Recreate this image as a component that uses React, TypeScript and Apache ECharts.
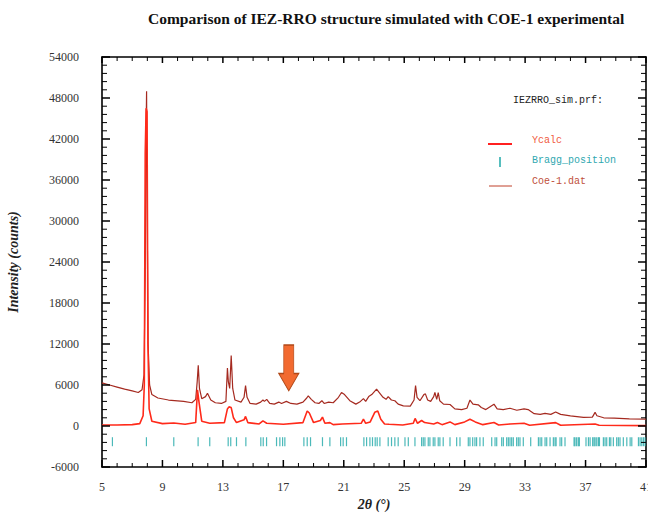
import React, { useEffect, useRef } from "react";
import * as echarts from "echarts";

const titleText = "Comparison of IEZ-RRO structure simulated with COE-1 experimental";

// Experimental pattern (Coe-1.dat): 2θ and intensity
const expTheta = [5.0, 5.5, 6.0, 6.5, 7.0, 7.4, 7.65, 7.78, 7.86, 7.9, 7.95, 8.0, 8.05, 8.15, 8.3, 8.7, 9.4, 10.4, 10.95, 11.2, 11.3, 11.37, 11.45, 11.6, 11.85, 11.98, 12.2, 12.5, 12.9, 13.2, 13.3, 13.36, 13.45, 13.55, 13.65, 13.8, 14.2, 14.4, 14.5, 14.6, 14.8, 15.2, 15.5, 15.65, 15.75, 15.9, 16.1, 16.4, 16.7, 16.88, 17.2, 17.5, 17.9, 18.3, 18.55, 18.65, 18.85, 19.1, 19.35, 19.55, 19.7, 20.0, 20.3, 20.65, 20.85, 21.05, 21.4, 21.8, 22.05, 22.3, 22.45, 22.65, 22.85, 23.17, 23.35, 23.6, 23.8, 23.94, 24.15, 24.38, 24.6, 24.94, 25.4, 25.65, 25.75, 25.85, 26.04, 26.3, 26.4, 26.55, 26.75, 26.95, 27.03, 27.15, 27.25, 27.35, 27.6, 28.03, 28.35, 28.8, 29.15, 29.35, 29.55, 29.9, 30.1, 30.4, 30.94, 31.15, 31.55, 32.0, 32.45, 32.93, 33.2, 33.6, 34.0, 34.32, 34.7, 35.02, 35.35, 36.0, 36.86, 37.45, 37.63, 37.75, 38.2, 38.9, 39.9, 41.0];
const expIntensity = [6300, 6000, 5700, 5400, 5150, 4900, 5300, 7500, 22000, 40000, 49000, 28000, 12000, 6000, 4600, 4100, 3800, 3600, 3400, 3900, 6500, 8900, 5500, 4000, 4300, 4800, 3800, 3400, 3300, 3600, 8500, 6500, 5500, 10300, 5500, 3800, 3500, 4200, 5900, 4200, 3300, 3200, 3500, 3800, 3600, 3900, 3300, 3200, 3500, 3300, 3600, 3300, 3200, 3500, 4100, 4400, 3900, 3400, 3300, 3700, 3300, 3500, 3400, 4200, 4900, 4600, 3700, 3200, 3500, 4000, 3600, 4300, 4600, 5400, 4900, 4200, 3900, 4300, 3800, 3700, 3200, 2950, 2900, 3800, 5900, 4200, 3700, 4600, 4700, 3800, 3600, 4300, 4900, 3900, 4900, 3700, 3200, 3150, 2500, 2400, 2600, 3800, 3200, 3100, 2700, 2400, 3200, 2500, 2400, 2600, 2300, 2500, 2400, 1800, 1700, 1850, 1700, 2050, 1700, 1480, 1250, 1300, 2000, 1500, 1200, 1150, 1050, 1000];

// Calculated pattern (Ycalc)
const calcTheta = [5.0, 6.0, 7.0, 7.5, 7.72, 7.8, 7.86, 7.92, 7.98, 8.04, 8.12, 8.3, 9.0, 9.75, 10.5, 11.2, 11.32, 11.42, 11.6, 12.13, 13.1, 13.3, 13.4, 13.55, 13.7, 13.9, 14.4, 14.5, 14.65, 15.4, 15.65, 15.9, 17.0, 18.3, 18.58, 18.72, 19.0, 19.45, 19.59, 19.75, 20.08, 20.3, 20.9, 22.15, 22.3, 22.45, 22.75, 23.05, 23.25, 23.45, 23.7, 24.0, 24.9, 25.6, 25.72, 25.88, 26.15, 26.35, 26.95, 27.2, 27.5, 28.03, 28.35, 29.0, 29.35, 29.7, 30.2, 30.94, 31.25, 32.0, 32.93, 33.3, 35.02, 35.35, 37.63, 37.9, 41.0];
const calcIntensity = [150, 150, 200, 350, 1500, 6000, 40000, 46500, 46000, 12000, 2500, 700, 350, 450, 250, 500, 5300, 3500, 700, 400, 500, 2500, 2800, 2700, 1200, 500, 900, 1400, 500, 300, 750, 400, 250, 500, 2200, 1900, 500, 800, 1300, 400, 500, 200, 300, 400, 1000, 400, 600, 2000, 2200, 1000, 300, 250, 150, 400, 1100, 400, 800, 500, 300, 500, 200, 600, 200, 600, 1000, 600, 200, 500, 150, 300, 400, 100, 500, 100, 300, 100, 50];

// Bragg reflection positions (2θ)
const braggPositions = [5.69, 7.94, 9.75, 11.36, 12.13, 13.35, 13.52, 13.9, 14.52, 15.51, 15.67, 15.89, 16.55, 16.77, 16.95, 17.1, 18.36, 18.58, 18.8, 19.59, 20.08, 20.79, 20.96, 21.18, 22.33, 22.51, 22.73, 22.9, 23.08, 23.21, 23.39, 23.94, 24.16, 24.38, 24.6, 25.05, 25.27, 25.71, 26.15, 26.26, 26.37, 26.59, 26.7, 26.92, 27.03, 27.25, 27.36, 27.58, 28.03, 28.47, 28.69, 29.24, 29.35, 29.53, 29.68, 29.79, 30.01, 30.23, 30.79, 31.01, 31.12, 31.45, 31.56, 31.78, 31.89, 32.0, 32.11, 32.22, 32.44, 32.55, 32.66, 32.88, 33.37, 33.88, 33.99, 34.1, 34.32, 34.43, 34.65, 34.87, 34.98, 35.05, 35.31, 35.42, 35.64, 36.24, 36.3, 36.41, 36.52, 36.59, 37.03, 37.19, 37.3, 37.47, 37.56, 37.63, 37.74, 37.85, 37.92, 38.18, 38.29, 38.4, 38.58, 38.67, 38.84, 39.06, 39.17, 39.28, 39.5, 39.73, 39.95, 40.06, 40.5, 40.61, 40.72, 40.83, 40.94];
const braggLevel = -2300;

// Axis ranges and tick steps
const xMin = 5, xMax = 41, xStep = 4, xMinorStep = 1;
const yMin = -6000, yMax = 54000, yStep = 6000, yMinorStep = 1200;

// Arrow annotation position
const arrowAt = [17.36, 8500];

const serif = "'Liberation Serif', 'Times New Roman', serif";
const mono = "'Liberation Mono', 'DejaVu Sans Mono', monospace";

export default function App() {
  const ref = useRef<HTMLDivElement>(null);
  useEffect(() => {
    if (!ref.current) return;
    const chart = echarts.init(ref.current, undefined, { renderer: "svg" });
    const expData = expTheta.map((t, i) => [t, expIntensity[i]]);
    const calcData = calcTheta.map((t, i) => [t, calcIntensity[i]]);
    const braggData = braggPositions.map((t) => [t, braggLevel]);

    // Tick values of the frame (axis decoration)
    const xMajor: number[] = [], xMinor: number[] = [], yMajor: number[] = [], yMinor: number[] = [];
    for (let k = 0; xMin + k * xMinorStep <= xMax + 1e-9; k++) {
      const v = xMin + k * xMinorStep;
      ((k * xMinorStep) % xStep === 0 ? xMajor : xMinor).push(v);
    }
    for (let k = 0; yMin + k * yMinorStep <= yMax + 1e-9; k++) {
      const v = yMin + k * yMinorStep;
      ((k * yMinorStep) % yStep === 0 ? yMajor : yMinor).push(v);
    }

    // Inward tick marks drawn as small rect symbols through the axis scales
    const tickSeries = (data: number[][], size: number[], offset: number[]) => ({
      type: "scatter",
      data,
      symbol: "rect",
      symbolSize: size,
      symbolOffset: offset,
      itemStyle: { color: "#000", opacity: 1 },
      clip: false,
      silent: true,
      z: 10,
    });

    const frameLine = { show: true, onZero: false, lineStyle: { color: "#000", width: 1.6 } };
    const xBase = { type: "value", min: xMin, max: xMax, interval: xStep, splitLine: { show: false }, axisTick: { show: false } };
    const yBase = { type: "value", min: yMin, max: yMax, interval: yStep, splitLine: { show: false }, axisTick: { show: false } };

    chart.setOption({
      animation: false,
      backgroundColor: "#fff",
      title: {
        text: titleText,
        left: 143,
        top: 5,
        textStyle: { fontFamily: serif, fontWeight: "bold", fontSize: 15.5, color: "#111" },
      },
      grid: { left: 102, right: 2, top: 57, bottom: 47, outerBoundsMode: "none" },
      xAxis: [
        {
          ...xBase,
          position: "bottom",
          axisLine: frameLine,
          axisLabel: { show: true, showMaxLabel: true, showMinLabel: true, margin: 14, fontFamily: serif, fontSize: 12, color: "#333" },
          name: "2θ (°)",
          nameLocation: "middle",
          nameGap: 29,
          nameTextStyle: { fontFamily: serif, fontStyle: "italic", fontWeight: "bold", fontSize: 14, color: "#222" },
        },
        { ...xBase, position: "top", axisLine: frameLine, axisLabel: { show: false } },
      ],
      yAxis: [
        {
          ...yBase,
          position: "left",
          axisLine: frameLine,
          axisLabel: {
            show: true, margin: 23, fontFamily: serif, fontSize: 12, color: "#333",
            formatter: (v: number) => String(v),
          },
          name: "Intensity (counts)",
          nameLocation: "middle",
          nameGap: 82,
          nameTextStyle: { fontFamily: serif, fontStyle: "italic", fontWeight: "bold", fontSize: 14, color: "#222" },
        },
        { ...yBase, position: "right", axisLine: frameLine, axisLabel: { show: false } },
      ],
      series: [
        {
          name: "Coe-1.dat",
          type: "line",
          data: expData,
          symbol: "none",
          lineStyle: { color: "#a52a20", width: 1.2 },
          z: 2,
          markPoint: {
            silent: true,
            symbol: "path://M5,0L15,0L15,28L20,28L10,45L0,28L5,28Z",
            symbolSize: [20, 46],
            itemStyle: { color: "#f26a30", borderColor: "#b04818", borderWidth: 1 },
            label: { show: false },
            data: [{ coord: arrowAt }],
          },
        },
        {
          name: "Ycalc",
          type: "line",
          data: calcData,
          symbol: "none",
          lineStyle: { color: "#ff2a1a", width: 1.6 },
          z: 3,
        },
        {
          name: "Bragg_position",
          type: "scatter",
          data: braggData,
          symbol: "rect",
          symbolSize: [1.2, 9],
          itemStyle: { color: "#1ea8a8" },
          silent: true,
          z: 4,
        },
        tickSeries(xMajor.map((v) => [v, yMin]), [1.5, 7], [0, -3.5]),
        tickSeries(xMinor.map((v) => [v, yMin]), [1, 4], [0, -2]),
        tickSeries(xMajor.map((v) => [v, yMax]), [1.5, 6], [0, 3]),
        tickSeries(xMinor.map((v) => [v, yMax]), [1, 4], [0, 2]),
        tickSeries(yMajor.map((v) => [xMin, v]), [8, 1.5], [4, 0]),
        tickSeries(yMinor.map((v) => [xMin, v]), [5, 1], [2.5, 0]),
        tickSeries(yMajor.map((v) => [xMax, v]), [8, 1.5], [-4, 0]),
        tickSeries(yMinor.map((v) => [xMax, v]), [5, 1], [-2.5, 0]),
      ],
      graphic: [
        { type: "text", left: 513, top: 95, style: { text: "IEZRRO_sim.prf:", font: `10px ${mono}`, fill: "#222" } },
        { type: "line", shape: { x1: 488, y1: 144, x2: 512, y2: 144 }, style: { stroke: "#ff2020", lineWidth: 2 } },
        { type: "text", left: 532, top: 135, style: { text: "Ycalc", font: `10px ${mono}`, fill: "#f05a40" } },
        { type: "line", shape: { x1: 500, y1: 157, x2: 500, y2: 167 }, style: { stroke: "#1ea8a8", lineWidth: 1.5 } },
        { type: "text", left: 532, top: 155, style: { text: "Bragg_position", font: `10px ${mono}`, fill: "#30a8b0" } },
        { type: "line", shape: { x1: 489, y1: 186, x2: 512, y2: 186 }, style: { stroke: "#c0402a", lineWidth: 1 } },
        { type: "text", left: 532, top: 176, style: { text: "Coe-1.dat", font: `10px ${mono}`, fill: "#c0503a" } },
      ],
    });
    return () => chart.dispose();
  }, []);
  return <div ref={ref} style={{ position: "absolute", left: 0, top: 0, width: 648, height: 514 }} />;
}
